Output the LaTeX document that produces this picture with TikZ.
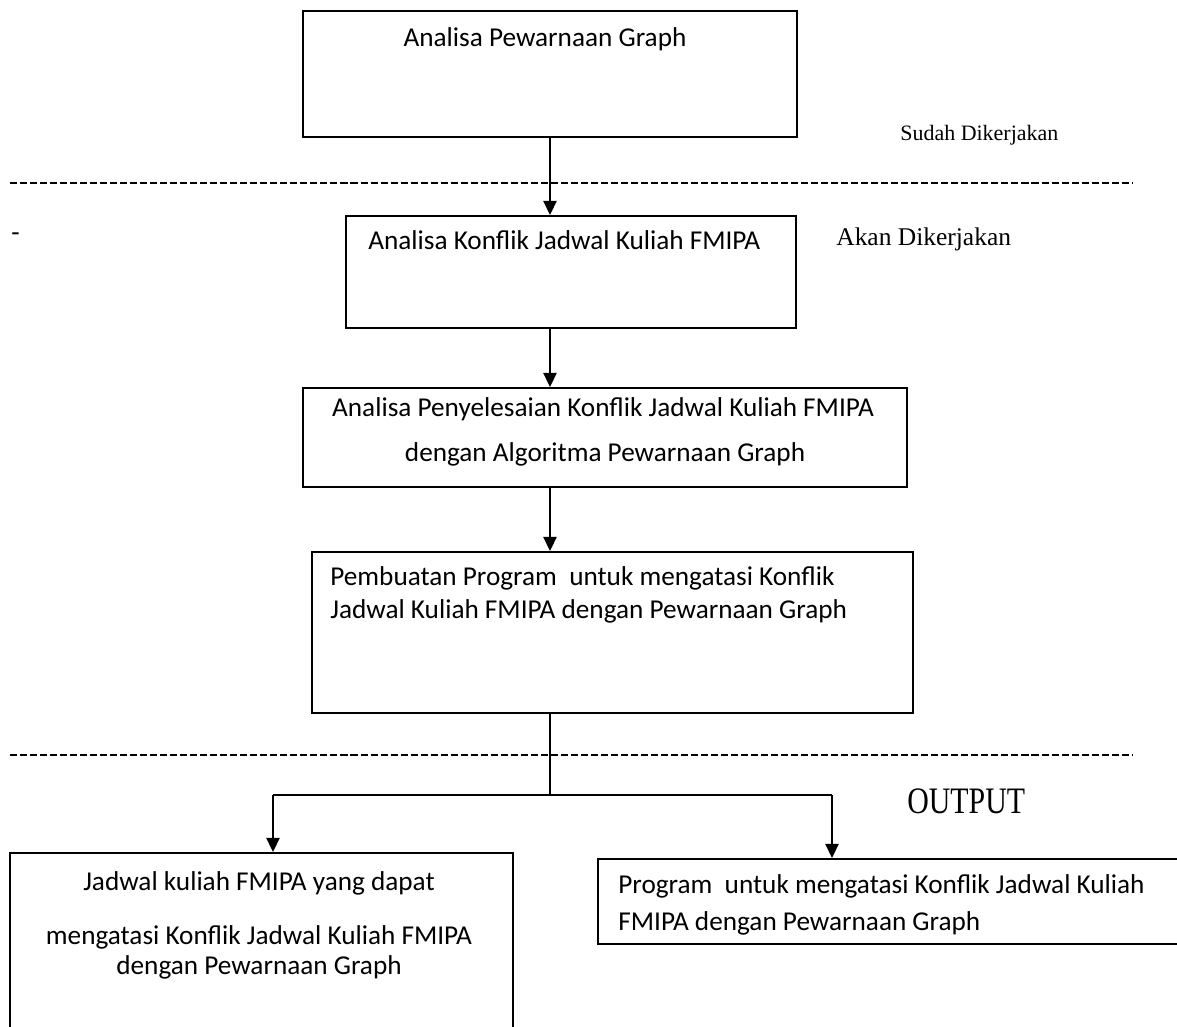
\documentclass[tikz,border=0pt]{standalone}
\usepackage{fontspec}
\setmainfont{Liberation Serif}
\newfontfamily\boxfont{Carlito}
\usetikzlibrary{arrows.meta}
\usetikzlibrary{positioning}

\begin{document}
\begin{tikzpicture}[x=0.02cm, y=-0.02cm, stage/.style={rectangle, draw, line width=1pt, anchor=north west, inner sep=0pt}, txt/.style={font=\boxfont\fontsize{15.5}{19}\selectfont, inner sep=0pt, anchor=base}, txtl/.style={txt, anchor=base west}, side/.style={font=\fontsize{13}{15}\selectfont, inner sep=0pt, anchor=base west}, line/.style={line width=0.8pt, dash pattern=on 4pt off 1.7pt}, arrow/.style={line width=1pt, -{Triangle[width=7.5pt, length=8pt]}}]
\useasboundingbox (0,0) rectangle (1177,1027);
% boxes
\node [stage, minimum width=9.88cm, minimum height=2.52cm] (b1) at (302,10) {};
\node [stage, minimum width=9cm, minimum height=2.24cm] (b2) at (345,215) {};
\node [stage, minimum width=12.08cm, minimum height=1.98cm] (b3) at (302,387) {};
\node [stage, minimum width=12.02cm, minimum height=3.22cm] (b4) at (311,551) {};
\node [stage, minimum width=10.06cm, minimum height=3.9cm] (b5) at (9,852) {};
\node [stage, minimum width=12cm, minimum height=1.7cm] (b6) at (597,858) {};
% texts
\node [txt] (t1) at (545,47) {Analisa Pewarnaan Graph};
\node [txtl] (t2) at (368,250) {Analisa Konflik Jadwal Kuliah FMIPA};
\node [txt] (t3a) at (603,417) {Analisa Penyelesaian Konflik Jadwal Kuliah FMIPA};
\node [txt] (t3b) at (605,461) {dengan Algoritma Pewarnaan Graph};
\node [txtl] (t4a) at (330,585) {Pembuatan Program~ untuk mengatasi Konflik};
\node [txtl] (t4b) at (330,618) {Jadwal Kuliah FMIPA dengan Pewarnaan Graph};
\node [txt] (t5a) at (259,890) {Jadwal kuliah FMIPA yang dapat};
\node [txt] (t5b) at (259,944) {mengatasi Konflik Jadwal Kuliah FMIPA};
\node [txt] (t5c) at (259,974) {dengan Pewarnaan Graph};
\node [txtl] (t6a) at (618,893) {Program~ untuk mengatasi Konflik Jadwal Kuliah};
\node [txtl] (t6b) at (618,930) {FMIPA dengan Pewarnaan Graph};
\node [txtl] (dash) at (11,242) {-};
\node [side, font=\fontsize{12.5}{15}\selectfont] (sudah) at (900,141) {Sudah Dikerjakan};
\node [side, font=\fontsize{14.5}{17}\selectfont] (akan) at (836,246) {Akan Dikerjakan};
\node [side, font=\fontsize{17}{19}\selectfont] (out) at (907,813) {\scalebox{1}[1.25]{OUTPUT}};
% separators
\coordinate (s1l) at (10,183);
\coordinate (s1r) at (1133,183);
\coordinate (s2l) at (10,755);
\coordinate (s2r) at (1133,755);
\draw [line] (s1l) -- (s1r);
\draw [line] (s2l) -- (s2r);
% flow
\coordinate (ax) at (550,0);
\coordinate (j) at (550,795);
\coordinate (jl) at (273,795);
\coordinate (jr) at (832,795);
\draw [arrow] (b1.south -| ax) -- (b2.north -| ax);
\draw [arrow] (b2.south -| ax) -- (b3.north -| ax);
\draw [arrow] (b3.south -| ax) -- (b4.north -| ax);
\draw [line width=0.6pt] (b4.south -| ax) -- (j);
\draw [line width=1pt] (jl) -- (jr);
\draw [arrow] (jl) -- (jl |- b5.north);
\draw [arrow] (jr) -- (jr |- b6.north);
\end{tikzpicture}
\end{document}
